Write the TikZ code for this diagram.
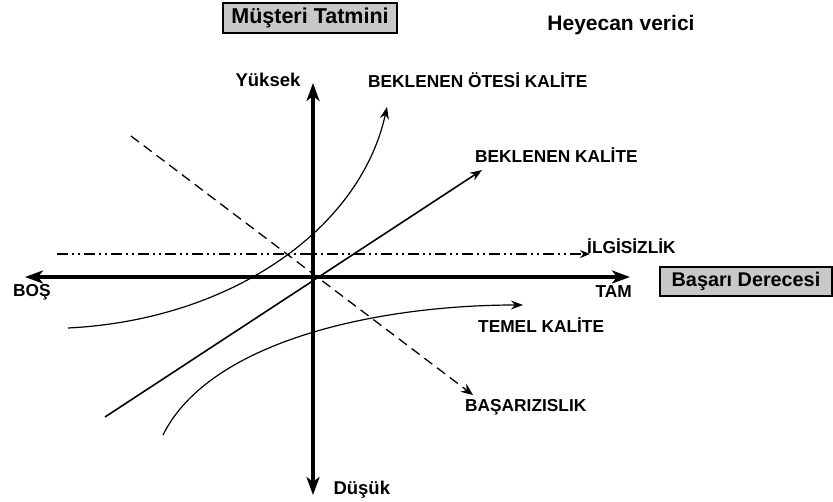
\documentclass[tikz,border=0pt]{standalone}
\usepackage{fontspec}
\setmainfont{Liberation Sans}
\usepackage{tikz}
\usetikzlibrary{arrows.meta,calc,positioning}
\definecolor{labelbox}{RGB}{200,200,200}
\newcommand{\lbl}[1]{\fontsize{17.3}{19}\selectfont\bfseries #1}

\begin{document}
\begin{tikzpicture}[x=1pt,y=-1pt,
  axisline/.style={line width=3.6pt,{Stealth[length=18pt,width=13pt,inset=5pt]}-{Stealth[length=18pt,width=13pt,inset=5pt]}},
  curveline/.style={line width=1.2pt,-{Stealth[length=12pt,width=9pt]}},
  titlebox/.style={draw,line width=1.3pt,fill=labelbox,inner sep=0pt,font=\fontsize{21.5}{23}\selectfont\bfseries}]
  \useasboundingbox (0,0) rectangle (833,502);
  % axes
  \coordinate (top) at (313,83);
  \coordinate (bot) at (313,495);
  \coordinate (left) at (25,277);
  \coordinate (right) at (630,277);
  \draw[axisline] (bot) -- (top);
  \draw[axisline] (left) -- (right);
  % boxes
  \node[titlebox,minimum width=174pt,minimum height=30pt] (tatmin) at (310,18) {Müşteri Tatmini};
  \node[titlebox,minimum width=172pt,minimum height=29pt,font=\fontsize{19.8}{21}\selectfont\bfseries] (basari) at (746,281.5) {Başarı Derecesi};
  \node[font=\fontsize{21}{23}\selectfont\bfseries] (heyecan) at (621,25) {Heyecan verici};
  % axis labels
  \node[font=\fontsize{18.5}{20}\selectfont\bfseries] (yuksek) at (268,80) {Yüksek};
  \node[anchor=west,font=\fontsize{18.5}{20}\selectfont\bfseries] (dusuk) at (330,490) {Düşük};
  \node[anchor=west,inner sep=0pt] (bos) at (13,292) {\lbl{BOŞ}};
  \node[anchor=east,inner sep=0pt] (tam) at (632,292) {\lbl{TAM}};
  % curve ends
  \coordinate (otesiA) at (68,328);
  \coordinate (otesiB) at (387,107);
  \coordinate (kaliteA) at (105,417);
  \coordinate (kaliteB) at (482,170);
  \coordinate (temelA) at (163,435);
  \coordinate (temelB) at (523,305);
  \coordinate (ilgiA) at (57,254);
  \coordinate (ilgiB) at (590,254);
  \coordinate (basarizA) at (131,136);
  \coordinate (basarizB) at (473,395);
  % curves
  \draw[curveline] (otesiA) .. controls (230,320) and (360,230) .. (otesiB);
  \draw[curveline,line width=1.6pt] (kaliteA) -- (kaliteB);
  \draw[curveline] (temelA) .. controls (210,340) and (380,305) .. (temelB);
  \draw[line width=1.3pt,dash pattern=on 11pt off 4pt on 2pt off 4pt on 2pt off 4pt,-{Stealth[length=10pt,width=8pt]}] (ilgiA) -- (ilgiB);
  \draw[line width=1.3pt,dash pattern=on 10pt off 6pt,-{Stealth[length=12pt,width=10pt]}] (basarizA) -- (basarizB);
  % curve labels
  \node[anchor=west,inner sep=0pt] (otesi) at (368,80) {\lbl{BEKLENEN ÖTESİ KALİTE}};
  \node[anchor=west,inner sep=0pt] (kalite) at (475,155) {\lbl{BEKLENEN KALİTE}};
  \node[anchor=west,inner sep=0pt] (ilgi) at (587,246) {\lbl{İLGİSİZLİK}};
  \node[anchor=west,inner sep=0pt] (temel) at (478,325) {\lbl{TEMEL KALİTE}};
  \node[anchor=west,inner sep=0pt] (basariz) at (465,407) {\lbl{BAŞARIZISLIK}};
\end{tikzpicture}
\end{document}
